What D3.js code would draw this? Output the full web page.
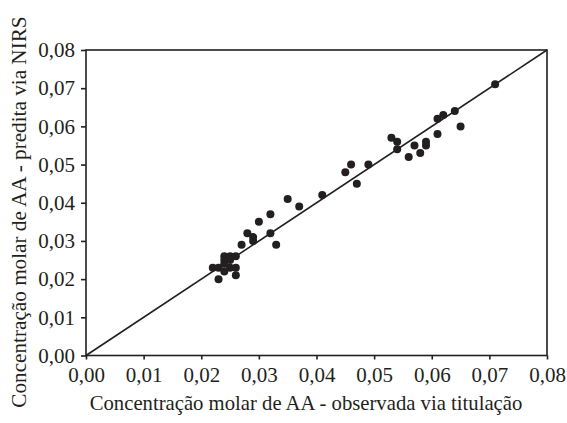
<!DOCTYPE html>
<html>
<head>
<meta charset="utf-8">
<script src="https://cdn.jsdelivr.net/npm/d3@7"></script>
<style>
  body { margin: 0; background: #fff; }
  text { font-family: "Liberation Serif", "Times New Roman", serif; fill: #231f20; }
</style>
</head>
<body>
<div id="chart"></div>
<script>
// observed (titration) vs predicted (NIRS)
var observada = [0.071, 0.064, 0.062, 0.061, 0.065, 0.061, 0.059, 0.059, 0.057, 0.058,
                 0.056, 0.053, 0.054, 0.054, 0.049, 0.046, 0.045, 0.047, 0.041, 0.035,
                 0.037, 0.032, 0.030, 0.028, 0.029, 0.029, 0.032, 0.033, 0.027,
                 0.024, 0.025, 0.026, 0.024, 0.025, 0.024, 0.022, 0.023, 0.026, 0.024,
                 0.023, 0.026, 0.025];
var predita   = [0.071, 0.064, 0.063, 0.062, 0.060, 0.058, 0.056, 0.055, 0.055, 0.053,
                 0.052, 0.057, 0.056, 0.054, 0.050, 0.050, 0.048, 0.045, 0.042, 0.041,
                 0.039, 0.037, 0.035, 0.032, 0.031, 0.030, 0.032, 0.029, 0.029,
                 0.026, 0.026, 0.026, 0.025, 0.025, 0.024, 0.023, 0.023, 0.023, 0.022,
                 0.020, 0.021, 0.023];
var ticks = [0, 0.01, 0.02, 0.03, 0.04, 0.05, 0.06, 0.07, 0.08];

var W = 567, H = 423;
var m = {left: 86, right: 20, top: 50, bottom: 67.5};

var svg = d3.select('#chart').append('svg').attr('width', W).attr('height', H);

var x = d3.scaleLinear().domain([0, 0.08]).range([m.left, W - m.right]);
var y = d3.scaleLinear().domain([0, 0.08]).range([H - m.bottom, m.top]);
var fmt = function(d){ return d3.format('.2f')(d).replace('.', ','); };

var ink = '#231f20';

// box
svg.append('rect')
    .attr('x', x(0)).attr('y', y(0.08))
    .attr('width', x(0.08) - x(0)).attr('height', y(0) - y(0.08))
    .attr('fill', 'none').attr('stroke', ink).attr('stroke-width', 1.6);

var xAxis = svg.append('g').attr('transform', 'translate(0,' + y(0) + ')')
    .call(d3.axisBottom(x).tickValues(ticks).tickFormat(fmt).tickSize(4).tickPadding(7));
var yAxis = svg.append('g').attr('transform', 'translate(' + x(0) + ',0)')
    .call(d3.axisLeft(y).tickValues(ticks).tickFormat(fmt).tickSize(5).tickPadding(6));

[xAxis, yAxis].forEach(function(a){
    a.select('.domain').remove();
    a.selectAll('line').attr('stroke', ink).attr('stroke-width', 1.6);
    a.selectAll('text').style('font-family', '"Liberation Serif", serif')
        .style('font-size', '21px').attr('fill', ink);
});
xAxis.selectAll('text').attr('dy', '0.72em');

// 1:1 line
svg.append('line')
    .attr('x1', x(0)).attr('y1', y(0)).attr('x2', x(0.08)).attr('y2', y(0.08))
    .attr('stroke', ink).attr('stroke-width', 1.6);

svg.append('g').selectAll('circle')
    .data(observada.map(function(d, i){ return [d, predita[i]]; }))
    .enter().append('circle')
    .attr('cx', function(d){ return x(d[0]); })
    .attr('cy', function(d){ return y(d[1]); })
    .attr('r', 4).attr('fill', ink);

svg.append('text')
    .attr('x', 306).attr('y', 410)
    .attr('text-anchor', 'middle').style('font-size', '20.7px')
    .text('Concentração molar de AA - observada via titulação');

svg.append('text')
    .attr('transform', 'translate(26,' + 212 + ') rotate(-90)')
    .attr('text-anchor', 'middle').style('font-size', '21.2px')
    .text('Concentração molar de AA - predita via NIRS');
</script>
</body>
</html>
